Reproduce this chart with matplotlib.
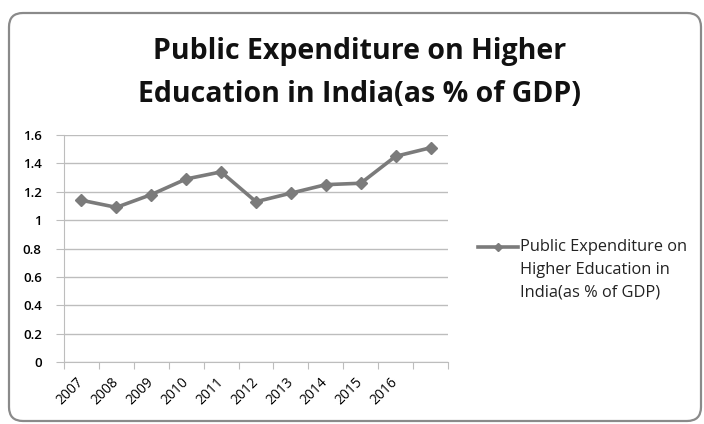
import numpy as np
import matplotlib
matplotlib.use("Agg")
import matplotlib.pyplot as plt
from matplotlib.patches import FancyBboxPatch
from matplotlib.lines import Line2D
from matplotlib.transforms import IdentityTransform

years = ['2007', '2008', '2009', '2010', '2011', '2012', '2013', '2014', '2015', '2016', '']
expenditure = [1.14, 1.09, 1.18, 1.29, 1.34, 1.13, 1.19, 1.25, 1.26, 1.45, 1.51]
series_name = 'Public Expenditure on\nHigher Education in\nIndia(as % of GDP)'
title = 'Public Expenditure on Higher\nEducation in India(as % of GDP)'

W, H = 704, 424
fig = plt.figure(figsize=(W / 100, H / 100), dpi=100)
font = 'Open Sans'

# rounded chart border
border = FancyBboxPatch((9, H - 421), 692, 408, boxstyle='round,pad=0,rounding_size=14',
                        transform=IdentityTransform(), fill=False, ec='#8a8a8a', lw=1.6)
fig.add_artist(border)

fig.text(360 / W, 1 - 73 / H, title, ha='center', va='center', fontsize=20.5,
         fontweight='bold', family=font, linespacing=1.62, color='#111111')

ax = fig.add_axes([64 / W, 1 - 362 / H, (448 - 64) / W, (362 - 135) / H])
x = np.arange(len(expenditure)) + 0.5
ax.plot(x, expenditure, color='#7b7b7b', lw=2.6, marker='D', ms=6.5, mec='#7b7b7b', mfc='#7b7b7b')

ax.set_xlim(0, len(expenditure))
ax.set_ylim(0, 1.6)
ax.set_yticks(np.arange(0, 1.61, 0.2))
ax.set_yticklabels(['0', '0.2', '0.4', '0.6', '0.8', '1', '1.2', '1.4', '1.6'],
                   family=font, fontsize=9.5, fontweight='semibold')
ax.yaxis.grid(True, color='#bdbdbd', lw=1)
ax.set_axisbelow(True)

ax.set_xticks(np.arange(len(expenditure) + 1))
ax.set_xticklabels([])
ax.set_xticks(x, minor=True)
ax.set_xticklabels(years, minor=True, rotation=45, ha='right', va='center',
                   rotation_mode='anchor', family=font, fontsize=10)
ax.tick_params(axis='x', which='major', length=5, color='#bdbdbd', direction='out')
ax.tick_params(axis='x', which='minor', length=0, pad=13)
ax.tick_params(axis='y', length=6, color='#bdbdbd', pad=10)

for side in ['top', 'right']:
    ax.spines[side].set_visible(False)
for side in ['left', 'bottom']:
    ax.spines[side].set_color('#bdbdbd')

# legend entry
fig.add_artist(Line2D([478 / W, 518 / W], [1 - 247 / H, 1 - 247 / H], color='#7b7b7b', lw=2.6,
                      transform=fig.transFigure))
fig.add_artist(Line2D([498 / W], [1 - 247 / H], color='#7b7b7b', marker='D', ms=4.5,
                      transform=fig.transFigure))
fig.text(520 / W, 1 - 239 / H, series_name, ha='left', va='top', fontsize=11.8,
         family=font, linespacing=1.55, color='#222222')

fig.savefig('out.png', dpi=100)
